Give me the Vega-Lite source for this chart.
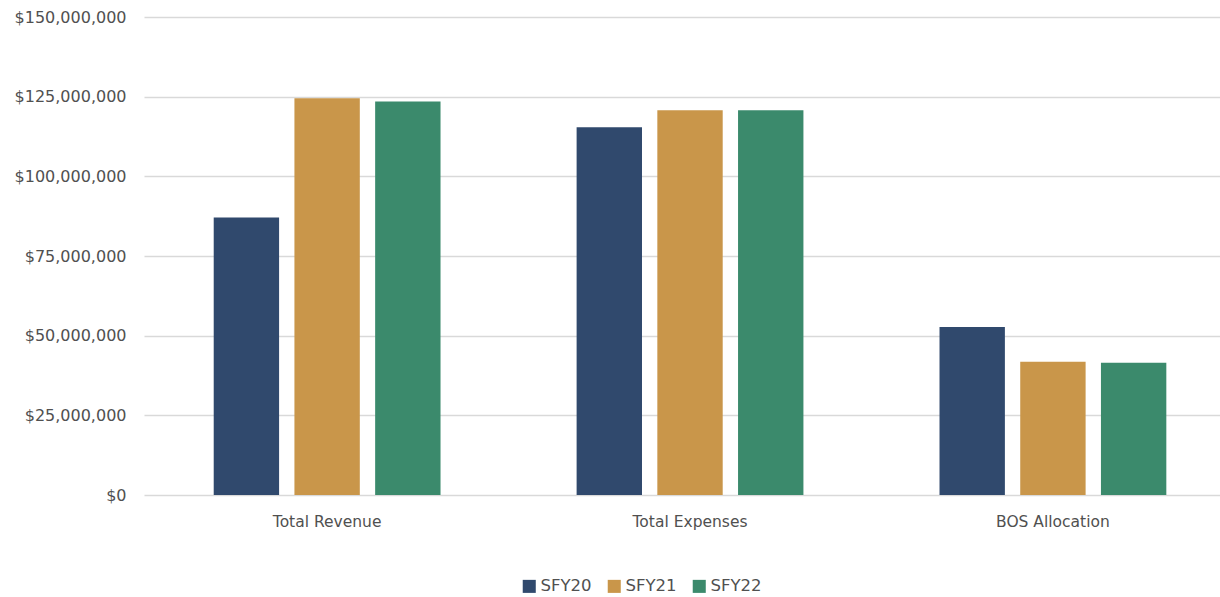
{
  "$schema": "https://vega.github.io/schema/vega-lite/v6.json",
  "autosize": {"type": "none"},
  "width": 1076,
  "height": 478,
  "padding": {"left": 144, "top": 17, "right": 0, "bottom": 102},
  "background": "white",
  "data": {
    "values": [
      {"category": "Total Revenue", "year": "SFY20", "amount": 87100000},
      {"category": "Total Revenue", "year": "SFY21", "amount": 124500000},
      {"category": "Total Revenue", "year": "SFY22", "amount": 123500000},
      {"category": "Total Expenses", "year": "SFY20", "amount": 115400000},
      {"category": "Total Expenses", "year": "SFY21", "amount": 120700000},
      {"category": "Total Expenses", "year": "SFY22", "amount": 120700000},
      {"category": "BOS Allocation", "year": "SFY20", "amount": 52700000},
      {"category": "BOS Allocation", "year": "SFY21", "amount": 41800000},
      {"category": "BOS Allocation", "year": "SFY22", "amount": 41500000}
    ]
  },
  "mark": {"type": "bar"},
  "encoding": {
    "x": {
      "field": "category",
      "type": "nominal",
      "sort": ["Total Revenue", "Total Expenses", "BOS Allocation"],
      "scale": {"paddingInner": 0.375, "paddingOuter": 0.17, "align": 0.565},
      "axis": {
        "title": null,
        "labelAngle": 0,
        "domain": false,
        "ticks": false,
        "labelFont": "DejaVu Sans",
        "labelFontSize": 15.5,
        "labelColor": "#505050",
        "labelPadding": 19
      }
    },
    "xOffset": {
      "field": "year",
      "type": "nominal",
      "scale": {"paddingInner": 0.19}
    },
    "y": {
      "field": "amount",
      "type": "quantitative",
      "scale": {"domain": [0, 150000000]},
      "axis": {
        "title": null,
        "values": [0, 25000000, 50000000, 75000000, 100000000, 125000000, 150000000],
        "format": "$,.0f",
        "domain": false,
        "ticks": false,
        "labelFont": "DejaVu Sans",
        "labelFontSize": 16,
        "labelColor": "#505050",
        "labelPadding": 18,
        "gridColor": "#d9d9d9",
        "gridWidth": 1.5
      }
    },
    "color": {
      "field": "year",
      "type": "nominal",
      "scale": {"domain": ["SFY20", "SFY21", "SFY22"], "range": ["#30496d", "#c9964a", "#3b8a6c"]},
      "legend": {
        "title": null,
        "orient": "none",
        "legendX": 377,
        "legendY": 561,
        "direction": "horizontal",
        "symbolType": "square",
        "symbolSize": 170,
        "symbolStrokeWidth": 0,
        "labelFont": "DejaVu Sans",
        "labelFontSize": 16.5,
        "labelColor": "#505050",
        "labelOffset": 3,
        "columnPadding": 14
      }
    }
  },
  "config": {"view": {"stroke": null}}
}
